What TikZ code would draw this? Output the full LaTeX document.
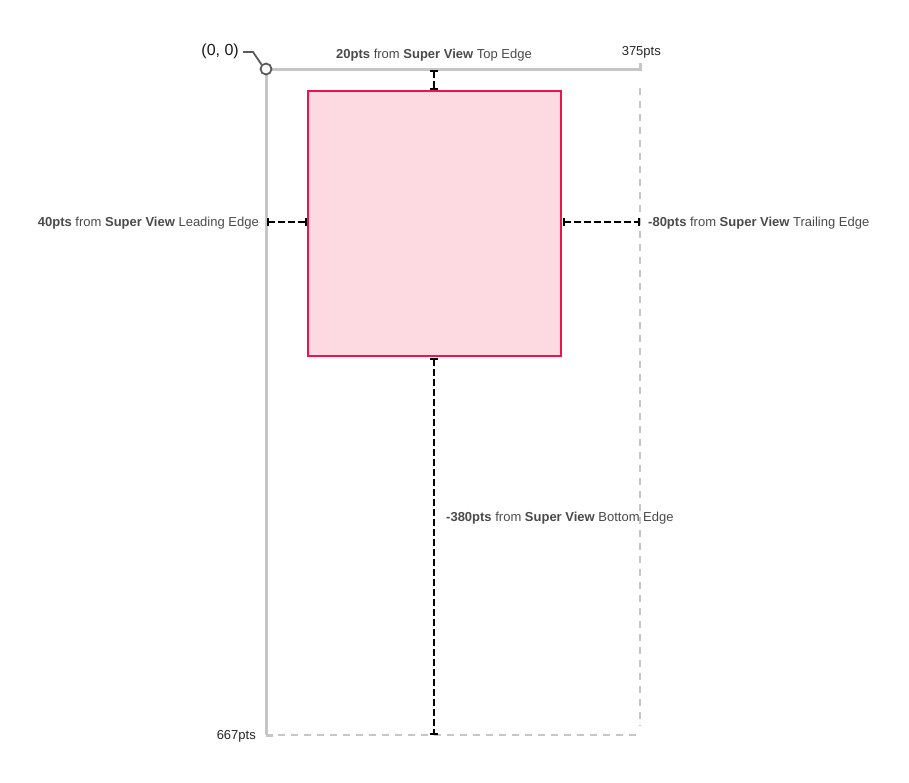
\documentclass[tikz,border=0pt]{standalone}
\usepackage{fontspec}
\setmainfont{Liberation Sans}
\usetikzlibrary{arrows.meta}
\definecolor{sgray}{HTML}{C6C6C6}
\definecolor{lbl}{HTML}{4A4A4A}
\definecolor{boxfill}{HTML}{FDDAE1}
\definecolor{boxline}{HTML}{F0124A}
\definecolor{dark}{HTML}{5A5A5A}
\tikzset{
  superline/.style={draw=sgray, line width=3pt},
  superdash/.style={draw=sgray, line width=2.2pt, dash pattern=on 7pt off 6pt},
  measure/.style={draw=black, line width=2pt, dash pattern=on 6.5pt off 3.5pt, {Bar[width=8pt,line width=2pt]}-{Bar[width=8pt,line width=2pt]}, shorten <=0.5pt, shorten >=0.5pt},
  lab/.style={text=lbl, font=\fontsize{13}{15}\selectfont, inner sep=0pt},
  num/.style={text=black!85, font=\fontsize{13}{15}\selectfont, inner sep=0pt},
}
\begin{document}
\begin{tikzpicture}[x=1pt,y=-1pt]
\useasboundingbox (0,0) rectangle (909,782);
% superview frame
\coordinate (O) at (266,69);
\coordinate (TR) at (640,69);
\coordinate (TRt) at (640,63);
\coordinate (BL) at (266,735);
\coordinate (BR) at (640,735);
\coordinate (BLs) at (273,735);
\coordinate (Rd) at (640,88);
\coordinate (Rde) at (640,726);
\draw[superline] (BL) -- (O) -- (TR) -- (TRt);
\draw[superdash] (Rd) -- (Rde);
\draw[superline, line cap=butt] (BL) -- (BLs);
\draw[superdash] (278,735) -- (BR);
% box
\node[draw=boxline, fill=boxfill, line width=2pt, minimum width=253pt, minimum height=265pt, inner sep=0pt, anchor=north west] (box) at (307,90) {};
% measure coordinates
\coordinate (topS) at (434,69);
\coordinate (leftS) at (266,222);
\coordinate (rightS) at (640,222);
\coordinate (botS) at (434,735);
\draw[measure] (topS) -- (box.north -| topS);
\draw[measure] (leftS) -- (box.west |- leftS);
\draw[measure] (box.east |- rightS) -- (rightS);
\draw[measure] (box.south -| botS) -- (botS);
% origin marker
\coordinate (k1) at (243,52);
\coordinate (k2) at (253,52);
\node[circle, draw=dark, fill=white, line width=1.8pt, minimum size=11pt, inner sep=0pt] (orig) at (O) {};
\draw[dark, line width=1.8pt] (k1) -- (k2) -- (orig.north west);
\node[text=black!90, font=\fontsize{16}{18}\selectfont, inner sep=0pt, anchor=east] (origlab) at (239,51) {(0, 0)};
% labels
\node[lab, anchor=center] (ltop) at (434,55.5) {\textbf{20pts} from \textbf{Super View} Top Edge};
\node[lab, anchor=east] (lleft) at (259,223.5) {\textbf{40pts} from \textbf{Super View} Leading Edge};
\node[lab, anchor=west] (lright) at (648,223.5) {\textbf{-80pts} from \textbf{Super View} Trailing Edge};
\node[lab, anchor=west] (lbot) at (446,518.5) {\textbf{-380pts} from \textbf{Super View} Bottom Edge};
\node[num, anchor=east] (w) at (661,52) {375pts};
\node[num, anchor=east] (h) at (256,736) {667pts};
\end{tikzpicture}
\end{document}
